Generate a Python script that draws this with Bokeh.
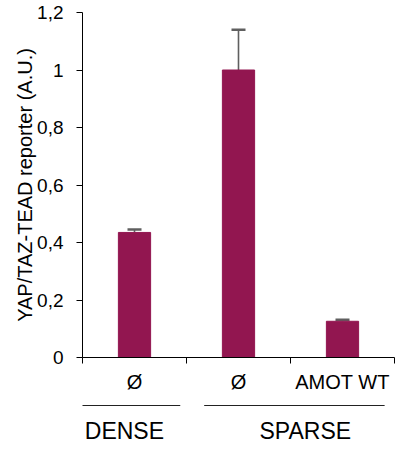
from bokeh.plotting import figure
from bokeh.models import (ColumnDataSource, Range1d, FixedTicker, CustomJSTickFormatter,
                          Whisker, TeeHead, Arrow)
from bokeh.layouts import column
from bokeh.core.properties import value
from bokeh.embed import file_html
from bokeh.resources import INLINE

# ---- data ----
categories = ["Ø", "Ø", "AMOT WT"]
positions = [0.5, 1.5, 2.5]
boundaries = [0, 1, 2, 3]
values = [0.435, 1.0, 0.126]
errors = [0.010, 0.140, 0.005]
y_ticks = [0, 0.2, 0.4, 0.6, 0.8, 1.0, 1.2]
groups = ["DENSE", "SPARSE"]
group_start = [-0.058, 1.17]
group_end = [0.94, 2.905]
group_center = [0.403, 2.142]

FONT = "Liberation Sans"
BAR = "#921650"
X_END = 3
LEFT = 82
RIGHT = 2
W = 396

src = ColumnDataSource(dict(x=positions, top=values,
                            upper=[v + e for v, e in zip(values, errors)],
                            lower=values))

p = figure(width=W, height=397, output_backend="svg", toolbar_location=None,
           x_range=Range1d(0, X_END), y_range=Range1d(0, 1.2),
           min_border_left=LEFT, min_border_right=RIGHT, min_border_top=12,
           min_border_bottom=40)
p.outline_line_color = None
p.grid.visible = False
p.background_fill_color = "white"

p.vbar(x="x", top="top", width=0.31, source=src, fill_color=BAR, line_color=BAR)
w = Whisker(base="x", upper="upper", lower="lower", source=src, dimension="height",
            line_color="#5f5f5f", line_width=1.6,
            upper_head=TeeHead(size=14, line_color="#5f5f5f", line_width=2.5),
            lower_head=None)
p.add_layout(w)

ya = p.yaxis[0]
ya.ticker = FixedTicker(ticks=y_ticks)
ya.formatter = CustomJSTickFormatter(code="""
    let s = tick.toFixed(1).replace('.', ',');
    if (s.endsWith(',0')) s = s.slice(0, -2);
    return s;
""")
ya.axis_label = "YAP/TAZ-TEAD reporter (A.U.)"
ya.axis_label_text_font = FONT
ya.axis_label_text_font_size = "20px"
ya.axis_label_text_font_style = "normal"
ya.axis_label_text_color = "black"
ya.axis_label_standoff = -2
ya.major_label_text_font = FONT
ya.major_label_text_font_size = "19px"
ya.major_label_text_color = "black"
ya.major_label_standoff = 13
ya.major_tick_out = 6
ya.major_tick_in = 0
ya.minor_tick_line_color = None
ya.axis_line_color = "black"
ya.major_tick_line_color = "black"

xa = p.xaxis[0]
xa.ticker = FixedTicker(ticks=positions, minor_ticks=boundaries)
xa.formatter = CustomJSTickFormatter(args=dict(labels=categories),
                                     code="return labels[Math.floor(tick)];")
xa.major_tick_out = 0
xa.major_tick_in = 0
xa.minor_tick_out = 6
xa.minor_tick_in = 0
xa.minor_tick_line_color = "black"
xa.axis_line_color = "black"
xa.major_label_text_font = FONT
xa.major_label_text_font_size = "20px"
xa.major_label_text_color = "black"
xa.major_label_standoff = 7

# ---- group annotations strip (its frame is aligned with the main frame) ----
H2 = 50
p2 = figure(width=W, height=H2, output_backend="svg", toolbar_location=None,
            x_range=Range1d(0, X_END), y_range=Range1d(0, H2),
            x_axis_location=None, y_axis_location=None,
            min_border_left=LEFT, min_border_right=RIGHT, min_border_top=0,
            min_border_bottom=0)
p2.outline_line_color = None
p2.grid.visible = False

gsrc = ColumnDataSource(dict(x0=group_start, x1=group_end, xc=group_center, name=groups,
                             yl=[H2 - 8] * len(groups), yt=[H2 - 33] * len(groups)))
p2.add_layout(Arrow(x_start="x0", x_end="x1", y_start="yl", y_end="yl", source=gsrc,
                    start=None, end=None, line_color="#222222", line_width=1))
p2.text(x="xc", y="yt", text="name", source=gsrc, text_align="center",
        text_baseline="middle", text_font=value(FONT), text_font_size="23px",
        text_color="black")

layout = column(p, p2, spacing=0)
open("out.html", "w").write(file_html(layout, INLINE))
